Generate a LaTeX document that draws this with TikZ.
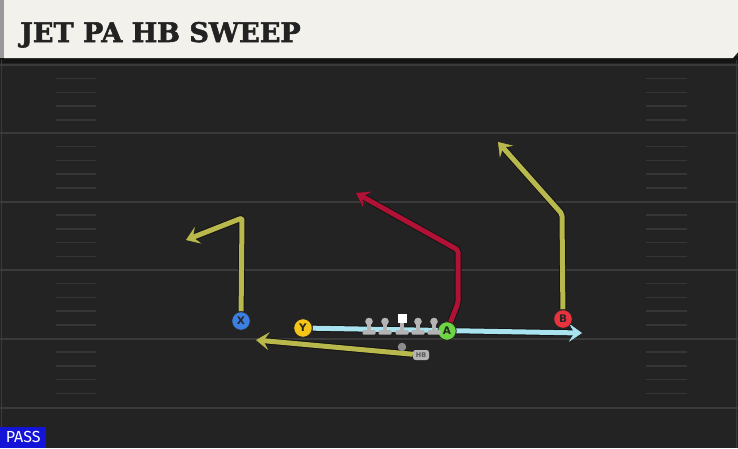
\documentclass[tikz,border=0pt]{standalone}
\usepackage{fontspec}
\setmainfont{DejaVu Sans}
\newfontfamily\titlefont{DejaVu Serif}[BoldFeatures={FakeBold=2}]
\newfontfamily\passfont{Fira Sans}
\usetikzlibrary{arrows.meta}
\definecolor{fieldbg}{HTML}{232323}
\definecolor{yardln}{HTML}{3A3A3A}
\definecolor{hashln}{HTML}{363636}
\definecolor{hdrbg}{HTML}{F3F1EB}
\definecolor{hdrtext}{HTML}{222222}
\definecolor{xblue}{HTML}{3D7FE0}
\definecolor{yyellow}{HTML}{F5C518}
\definecolor{agreen}{HTML}{6DD444}
\definecolor{bred}{HTML}{E8333F}
\definecolor{olive}{HTML}{B8B84C}
\definecolor{crimson}{HTML}{B01236}
\definecolor{lblue}{HTML}{A9E3F0}
\definecolor{passblue}{HTML}{1414D8}
\definecolor{lgray}{HTML}{B4B4B4}
\pgfdeclarelayer{bg}
\pgfdeclarelayer{rts}
\pgfsetlayers{bg,rts,main}
\tikzset{
  player/.style={circle, draw=black!85, line width=0.8pt, minimum size=18.5pt, inner sep=0pt,
    font=\bfseries\fontsize{10.5}{10.5}\selectfont, text=black!85},
  rtback/.style={draw=black!92, line width=7pt, line join=round, rounded corners=2pt,
    -{Stealth[length=13pt,width=18pt,inset=5.5pt,line width=2pt]}},
  rtfront/.style={line width=5pt, line join=round, rounded corners=2pt,
    -{Stealth[length=13pt,width=18pt,inset=5.5pt,line width=0.5pt]}},
  yardline/.style={draw=yardln, line width=2pt},
  hashmark/.style={draw=hashln, line width=1.5pt},
  lineman/.style={fill=lgray},
}
\begin{document}
\begin{tikzpicture}[x=1pt,y=-1pt]
\useasboundingbox (0,0) rectangle (738,448);
\begin{pgfonlayer}{bg}
  % field
  \fill[fieldbg] (0,0) rectangle (738,448);
  \fill[black!92] (0,56) rectangle (738,63);
  % yard lines
  \foreach \yy in {65,133,201.5,270,338.5,407.5}
    \draw[yardline] (0,\yy) -- (738,\yy);
  % hash marks
  \foreach \yy in {65,133,201.5,270,338.5}
    \foreach \k in {1,2,3,4} {
      \draw[hashmark] (56,\yy+13.7*\k) -- (96,\yy+13.7*\k);
      \draw[hashmark] (646,\yy+13.7*\k) -- (687,\yy+13.7*\k);
    }
  % side borders
  \draw[yardln, line width=1.5pt] (1.5,60) -- (1.5,448);
  \draw[yardln, line width=1.5pt] (736.5,60) -- (736.5,448);
  % header
  \fill[hdrbg] (4,0) -- (738,0) -- (738,52) -- (733,58) -- (4,58) -- cycle;
  \fill[black!40] (0,0) rectangle (4,58);
\end{pgfonlayer}

\node[anchor=base west, inner sep=0pt, text=hdrtext, font=\titlefont\bfseries\fontsize{27}{27}\selectfont] (title) at (20,42) {JET PA HB SWEEP};

% PASS label
\node[anchor=south west, fill=passblue, text=white, inner sep=0pt, minimum width=46pt, minimum height=21pt,
  font=\passfont\fontsize{16}{16}\selectfont] (pass) at (0,448) {PASS};

% players
\node[player, fill=xblue] (X) at (241,321) {X};
\node[player, fill=yyellow] (Y) at (303,328) {Y};
\node[player, fill=agreen] (A) at (447,331) {A};
\node[player, fill=bred] (B) at (563,319) {B};

% QB and HB
\node[circle, fill=black!45, minimum size=8.5pt, inner sep=0pt] (QB) at (402,347) {};
\node[fill=lgray, rounded corners=2.5pt, minimum width=16pt, minimum height=10pt, inner sep=0pt,
  text=black!65, font=\bfseries\fontsize{6.5}{6.5}\selectfont] (HB) at (421,355) {HB};

% offensive line
\foreach \xx in {369,385,418,434} {
  \fill[lineman] (\xx,321.5) circle (3.8);
  \fill[lineman] (\xx-2,324) rectangle (\xx+2,331);
  \fill[lineman, rounded corners=1pt] (\xx-6.5,330) rectangle (\xx+6.5,334.5);
}
\fill[white] (397.5,314) rectangle (406.5,323);
\fill[lineman] (400,323) rectangle (404,331);
\fill[lineman, rounded corners=1pt] (395.5,330) rectangle (408.5,334.5);

% route points
\coordinate (xc) at (242,218);
\coordinate (xe) at (186,240);
\coordinate (ye) at (582,333);
\coordinate (ac1) at (458,303);
\coordinate (ac2) at (458,250);
\coordinate (ae) at (356,193);
\coordinate (bc) at (562,214);
\coordinate (be) at (498,142);
\coordinate (he) at (256,340);

\begin{pgfonlayer}{rts}
  % Y route
  \draw[rtback] (Y) -- (ye);
  \draw[rtfront, draw=lblue, fill=lblue] (Y) -- (ye);
  % X route
  \draw[rtback] (X) -- (xc) -- (xe);
  \draw[rtfront, draw=olive] (X) -- (xc) -- (xe);
  % A route
  \draw[rtback] (A) -- (ac1) -- (ac2) -- (ae);
  \draw[rtfront, draw=crimson] (A) -- (ac1) -- (ac2) -- (ae);
  % B route
  \draw[rtback] (B) -- (bc) -- (be);
  \draw[rtfront, draw=olive] (B) -- (bc) -- (be);
  % HB route
  \draw[rtback] (HB) -- (he);
  \draw[rtfront, draw=olive] (HB) -- (he);
\end{pgfonlayer}
\end{tikzpicture}
\end{document}
